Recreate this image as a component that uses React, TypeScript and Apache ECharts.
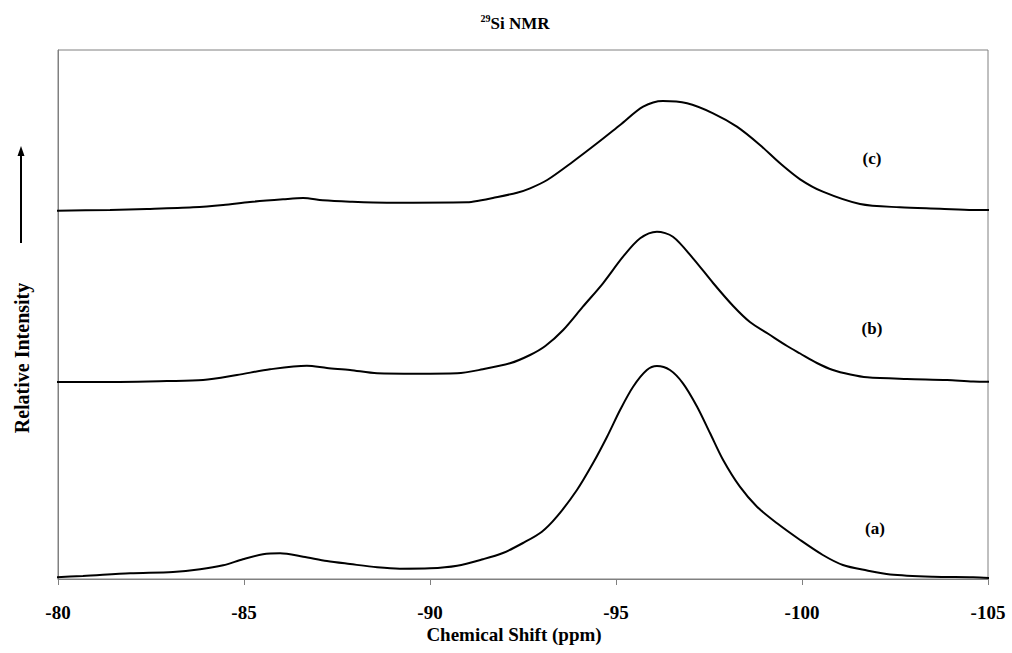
import React, { useEffect, useRef } from "react";
import * as echarts from "echarts";

// Chemical shift ticks (ppm)
const xTicks = [-80, -85, -90, -95, -100, -105];

// Spectrum (a): [ppm, relative intensity above its own baseline]
const specA: [number, number][] = [
  [-79.87, 1.7], [-80.67, 3], [-81.94, 5.7], [-83.09, 7], [-83.82, 9.7], [-84.44, 13.7],
  [-84.97, 19.7], [-85.51, 24.7], [-85.97, 25.7], [-86.59, 22.3], [-87.23, 18], [-87.85, 15],
  [-88.58, 11.7], [-89.19, 10.3], [-90.0, 10.7], [-90.73, 13.3], [-91.42, 19.7], [-91.96, 26],
  [-92.5, 36], [-93.0, 47], [-93.41, 62.3], [-93.95, 89], [-94.38, 115.7], [-94.76, 142.3],
  [-95.11, 169], [-95.46, 192.3], [-95.83, 209], [-96.1, 213], [-96.45, 209], [-96.8, 195.7],
  [-97.18, 172.3], [-97.53, 145.7], [-97.88, 119], [-98.33, 92.3], [-98.79, 72.3], [-99.33, 55.7],
  [-99.95, 39], [-100.56, 24], [-101.1, 14], [-101.75, 8.5], [-102.37, 4.5], [-103.52, 2.3],
  [-104.6, 1.7], [-105.13, 0.7],
];

// Spectrum (b)
const specB: [number, number][] = [
  [-79.87, 0], [-80.94, 0], [-82.93, 1], [-83.9, 2], [-84.81, 7], [-85.7, 12.7], [-86.69, 16.3],
  [-87.23, 14], [-87.85, 12], [-88.58, 8.7], [-89.65, 8.3], [-90.73, 8.7], [-91.42, 12.7],
  [-92.15, 18.7], [-92.69, 27], [-93.1, 36], [-93.58, 52], [-94.11, 75.3], [-94.65, 98.7],
  [-95.19, 125.3], [-95.65, 143.7], [-96.1, 150.3], [-96.53, 145.3], [-97.07, 123.7],
  [-97.61, 99], [-98.15, 76], [-98.6, 60], [-99.1, 48], [-99.6, 36], [-99.95, 28.5],
  [-100.4, 19], [-100.83, 12], [-101.3, 7.5], [-101.75, 4.7], [-102.82, 3],
  [-103.9, 2], [-104.6, 0.5], [-105.13, 0.3],
];

// Spectrum (c)
const specC: [number, number][] = [
  [-79.87, 0.3], [-81.4, 1], [-82.39, 2], [-83.63, 3.7], [-84.44, 6], [-85.16, 9], [-86.05, 11.7],
  [-86.59, 13], [-87.12, 10.7], [-87.85, 9.3], [-88.84, 8.3], [-91.0, 8.7], [-91.34, 10.5],
  [-91.69, 13], [-92.34, 18.3], [-92.69, 22.7], [-93.15, 31], [-93.84, 49.3], [-94.49, 67.7],
  [-95.11, 86], [-95.73, 104.3], [-96.26, 110], [-96.91, 107.7], [-97.61, 97.7], [-98.25, 84.3],
  [-98.87, 66], [-99.41, 47.7], [-99.95, 31.7], [-100.56, 19.3],
  [-101.56, 7], [-102.63, 3.7], [-103.71, 2.3], [-104.6, 1], [-105.13, 1],
];

// Vertical stacking offsets of the three traces
const offsets = { a: 0, b: 197, c: 368 };
const labels = ["(a)", "(b)", "(c)"];

const FONT = '"Liberation Serif", "Times New Roman", serif';

export default function App() {
  const ref = useRef<HTMLDivElement>(null);
  useEffect(() => {
    if (!ref.current) return;
    const chart = echarts.init(ref.current, undefined, { renderer: "svg" });
    const gridTop = 50;
    const gridBottom = 74;
    const plotH = 653 - gridTop - gridBottom;
    const shift = (d: [number, number][], o: number) => d.map(([x, y]) => [x, y + o]);
    const lineSeries = (name: string, data: number[][]) => ({
      name,
      type: "line",
      data,
      smooth: 0.3,
      showSymbol: false,
      clip: false,
      lineStyle: { color: "#000", width: 2 },
    });
    const labelFont = `bold 17px ${FONT}`;
    chart.setOption({
      animation: false,
      backgroundColor: "#fff",
      grid: {
        left: 58,
        right: 24,
        top: gridTop,
        bottom: gridBottom,
        show: true,
        borderColor: "#808080",
        borderWidth: 1,
        backgroundColor: "transparent",
      },
      xAxis: {
        type: "value",
        min: -105,
        max: -80,
        interval: 5,
        inverse: true,
        axisLine: { show: true, onZero: false, lineStyle: { color: "#808080", width: 1 } },
        axisTick: { show: true, inside: false, length: 6, lineStyle: { color: "#808080" } },
        splitLine: { show: false },
        axisLabel: {
          margin: 24,
          color: "#000",
          fontFamily: FONT,
          fontWeight: "bold",
          fontSize: 19,
          formatter: (v: number) => (xTicks.includes(v) ? String(v) : ""),
        },
      },
      yAxis: {
        type: "value",
        min: 0,
        max: plotH,
        axisLine: { show: true, lineStyle: { color: "#808080", width: 1 } },
        axisTick: { show: false },
        axisLabel: { show: false },
        splitLine: { show: false },
      },
      series: [
        lineSeries("a", shift(specA, offsets.a)),
        lineSeries("b", shift(specB, offsets.b)),
        lineSeries("c", shift(specC, offsets.c)),
      ],
      graphic: [
        {
          type: "text",
          x: 515,
          y: 23,
          style: {
            text: "{s|29}{m|Si NMR}",
            align: "center",
            verticalAlign: "middle",
            rich: {
              s: { fontFamily: FONT, fontWeight: "bold", fontSize: 10, fill: "#000", padding: [0, 0, 9, 0] },
              m: { fontFamily: FONT, fontWeight: "bold", fontSize: 17, fill: "#000" },
            },
          },
        },
        {
          type: "text",
          x: 514,
          y: 634,
          style: {
            text: "Chemical Shift (ppm)",
            fill: "#000",
            font: `bold 19px ${FONT}`,
            align: "center",
            verticalAlign: "middle",
          },
        },
        {
          type: "text",
          x: 22,
          y: 358,
          rotation: Math.PI / 2,
          style: {
            text: "Relative Intensity",
            fill: "#000",
            font: `bold 20px ${FONT}`,
            align: "center",
            verticalAlign: "middle",
          },
        },
        { type: "line", shape: { x1: 21, y1: 243, x2: 21, y2: 154 }, style: { stroke: "#000", lineWidth: 2 } },
        { type: "polygon", shape: { points: [[21, 146], [17.5, 156], [24.5, 156]] }, style: { fill: "#000" } },
        { type: "text", x: 875, y: 528, style: { text: labels[0], fill: "#000", font: labelFont, align: "center", verticalAlign: "middle" } },
        { type: "text", x: 872, y: 328, style: { text: labels[1], fill: "#000", font: labelFont, align: "center", verticalAlign: "middle" } },
        { type: "text", x: 872, y: 158, style: { text: labels[2], fill: "#000", font: labelFont, align: "center", verticalAlign: "middle" } },
      ],
    });
    return () => chart.dispose();
  }, []);
  return <div ref={ref} style={{ width: 1012, height: 653, position: "absolute", left: 0, top: 0 }} />;
}
